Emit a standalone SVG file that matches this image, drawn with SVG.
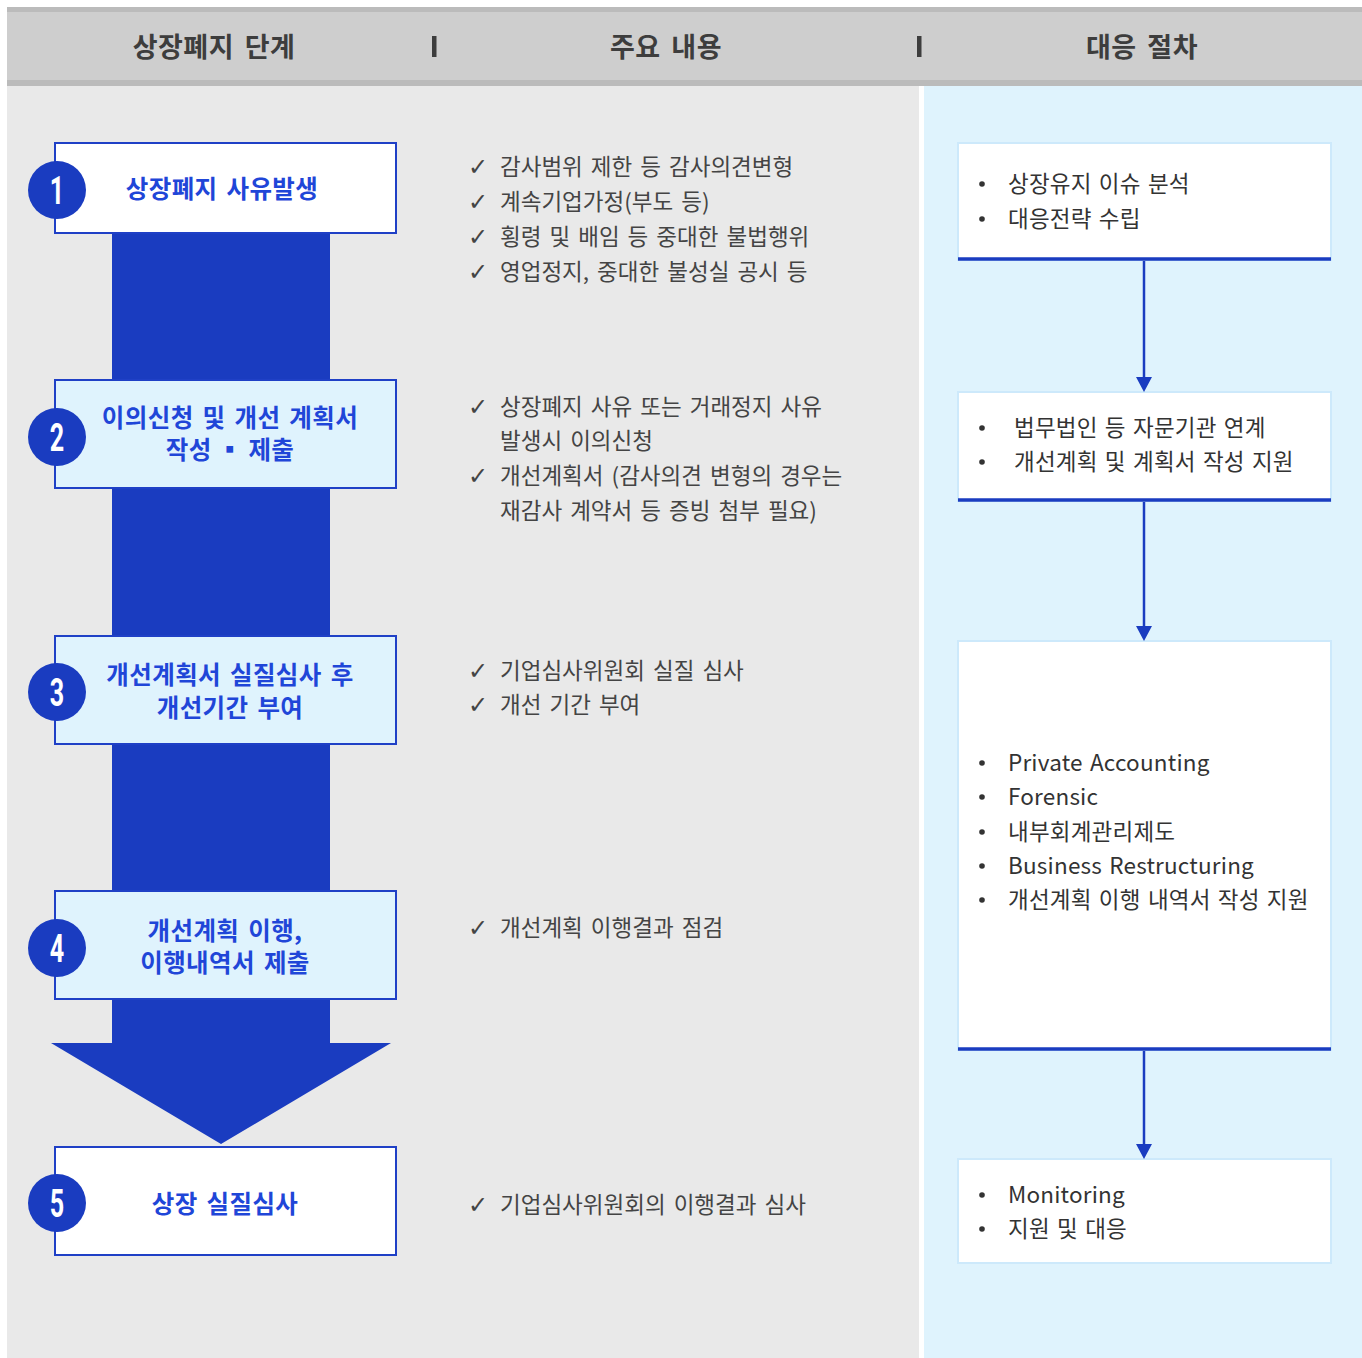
<svg xmlns="http://www.w3.org/2000/svg" width="1362" height="1358" viewBox="0 0 1362 1358">
<style>
.hdr{font-family:"Noto Sans CJK KR","Noto Sans",sans-serif;font-size:27px;font-weight:700;fill:#3d3d3d;text-anchor:middle;word-spacing:4px;letter-spacing:0.5px}
.step{fill:#1a3cc0}
.box{stroke:#1f40c6;stroke-width:2}
.lbl{font-family:"Noto Sans CJK KR","Noto Sans",sans-serif;font-size:24.5px;font-weight:700;fill:#1f46d8;text-anchor:middle;word-spacing:3px;letter-spacing:0.4px}
.num{font-family:Roboto,"Liberation Sans",sans-serif;font-size:38px;font-weight:700;fill:#ffffff;text-anchor:middle}
.mid{font-family:"Noto Sans CJK KR","Noto Sans",sans-serif;font-size:22.5px;fill:#444444;word-spacing:3px}
.chk{font-family:"DejaVu Sans",sans-serif;font-size:24px;fill:#444444}
.rbox{fill:#ffffff;stroke:#cde9fb;stroke-width:2}
.rline{stroke:#1a3cc0;stroke-width:3.5}
.rt{font-family:"Noto Sans CJK KR","Noto Sans",sans-serif;font-size:22.5px;fill:#333333;word-spacing:2px;letter-spacing:0.2px}
.bul{fill:#333333}
.conn{stroke:#1a3cc0;stroke-width:2.5;fill:none}
.head{fill:#1a3cc0}
</style>
<rect x="0" y="0" width="1362" height="1358" fill="#ffffff"/>
<rect x="7" y="86" width="912" height="1272" fill="#e9e9e9"/>
<rect x="924" y="86" width="438" height="1272" fill="#dff3fd"/>
<g id="header">
<rect x="7" y="7" width="1355" height="79" fill="#cecece"/>
<rect x="7" y="7" width="1355" height="5" fill="#bbbbbb"/>
<rect x="7" y="80" width="1355" height="6" fill="#bbbbbb"/>
<text class="hdr" x="214" y="57">상장폐지 단계</text>
<text class="hdr" x="666" y="57">주요 내용</text>
<text class="hdr" x="1142" y="57">대응 절차</text>
<rect x="432" y="36" width="4.5" height="21" fill="#3d3d3d"/>
<rect x="917" y="36" width="4.5" height="21" fill="#3d3d3d"/>
</g>
<g id="flow-arrow">
<path class="step" d="M112,200 L330,200 L330,1043 L391,1043 L221,1144 L51,1043 L112,1043 Z"/>
</g>
<g id="step1">
<rect class="box" x="55" y="143" width="341" height="90" fill="#ffffff"/>
<circle cx="57" cy="190" r="29" class="step"/>
<text class="num" transform="translate(57,204) scale(0.66,1)">1</text>
<text class="lbl" x="222" y="198">상장폐지 사유발생</text>
</g>
<g id="step2">
<rect class="box" x="55" y="380" width="341" height="108" fill="#dff3fd"/>
<circle cx="57" cy="437" r="29" class="step"/>
<text class="num" transform="translate(57,451) scale(0.66,1)">2</text>
<text class="lbl" x="230" y="427">이의신청 및 개선 계획서</text>
<text class="lbl" x="230" y="459" style="word-spacing:0px">작성 ▪ 제출</text>
</g>
<g id="step3">
<rect class="box" x="55" y="636" width="341" height="108" fill="#dff3fd"/>
<circle cx="57" cy="692" r="29" class="step"/>
<text class="num" transform="translate(57,706) scale(0.66,1)">3</text>
<text class="lbl" x="230" y="684">개선계획서 실질심사 후</text>
<text class="lbl" x="230" y="717">개선기간 부여</text>
</g>
<g id="step4">
<rect class="box" x="55" y="891" width="341" height="108" fill="#dff3fd"/>
<circle cx="57" cy="948" r="29" class="step"/>
<text class="num" transform="translate(57,962) scale(0.66,1)">4</text>
<text class="lbl" x="225" y="940">개선계획 이행,</text>
<text class="lbl" x="225" y="972">이행내역서 제출</text>
</g>
<g id="step5">
<rect class="box" x="55" y="1147" width="341" height="108" fill="#ffffff"/>
<circle cx="57" cy="1203" r="29" class="step"/>
<text class="num" transform="translate(57,1217) scale(0.66,1)">5</text>
<text class="lbl" x="225" y="1213">상장 실질심사</text>
</g>
<g id="content1">
<text class="chk" x="468" y="175">✓</text><text class="mid" x="500" y="175">감사범위 제한 등 감사의견변형</text>
<text class="chk" x="468" y="210">✓</text><text class="mid" x="500" y="210">계속기업가정(부도 등)</text>
<text class="chk" x="468" y="245">✓</text><text class="mid" x="500" y="245">횡령 및 배임 등 중대한 불법행위</text>
<text class="chk" x="468" y="280">✓</text><text class="mid" x="500" y="280">영업정지, 중대한 불성실 공시 등</text>
</g>
<g id="content2">
<text class="chk" x="468" y="415">✓</text><text class="mid" x="500" y="415">상장폐지 사유 또는 거래정지 사유</text>
<text class="mid" x="500" y="449">발생시 이의신청</text>
<text class="chk" x="468" y="484">✓</text><text class="mid" x="500" y="484">개선계획서 (감사의견 변형의 경우는</text>
<text class="mid" x="500" y="519">재감사 계약서 등 증빙 첨부 필요)</text>
</g>
<g id="content3">
<text class="chk" x="468" y="679">✓</text><text class="mid" x="500" y="679">기업심사위원회 실질 심사</text>
<text class="chk" x="468" y="713">✓</text><text class="mid" x="500" y="713">개선 기간 부여</text>
</g>
<g id="content4">
<text class="chk" x="468" y="936">✓</text><text class="mid" x="500" y="936">개선계획 이행결과 점검</text>
</g>
<g id="content5">
<text class="chk" x="468" y="1213">✓</text><text class="mid" x="500" y="1213">기업심사위원회의 이행결과 심사</text>
</g>
<g id="resp1">
<rect class="rbox" x="958" y="143" width="373" height="117"/>
<line class="rline" x1="958" y1="259" x2="1331" y2="259"/>
<circle class="bul" cx="982" cy="184" r="2.8"/><text class="rt" x="1008" y="192">상장유지 이슈 분석</text>
<circle class="bul" cx="982" cy="219" r="2.8"/><text class="rt" x="1008" y="227">대응전략 수립</text>
</g>
<g id="resp2">
<rect class="rbox" x="958" y="392" width="373" height="109"/>
<line class="rline" x1="958" y1="500" x2="1331" y2="500"/>
<circle class="bul" cx="982" cy="428" r="2.8"/><text class="rt" x="1014" y="436">법무법인 등 자문기관 연계</text>
<circle class="bul" cx="982" cy="462" r="2.8"/><text class="rt" x="1014" y="470">개선계획 및 계획서 작성 지원</text>
</g>
<g id="resp3">
<rect class="rbox" x="958" y="641" width="373" height="409"/>
<line class="rline" x1="958" y1="1049" x2="1331" y2="1049"/>
<circle class="bul" cx="982" cy="763" r="2.8"/><text class="rt" x="1008" y="771">Private Accounting</text>
<circle class="bul" cx="982" cy="797" r="2.8"/><text class="rt" x="1008" y="805">Forensic</text>
<circle class="bul" cx="982" cy="832" r="2.8"/><text class="rt" x="1008" y="840">내부회계관리제도</text>
<circle class="bul" cx="982" cy="866" r="2.8"/><text class="rt" x="1008" y="874">Business Restructuring</text>
<circle class="bul" cx="982" cy="900" r="2.8"/><text class="rt" x="1008" y="908">개선계획 이행 내역서 작성 지원</text>
</g>
<g id="resp4">
<rect class="rbox" x="958" y="1159" width="373" height="104"/>
<circle class="bul" cx="982" cy="1195" r="2.8"/><text class="rt" x="1008" y="1203">Monitoring</text>
<circle class="bul" cx="982" cy="1229" r="2.8"/><text class="rt" x="1008" y="1237">지원 및 대응</text>
</g>
<g id="connectors">
<line class="conn" x1="1144" y1="261" x2="1144" y2="378"/>
<polygon class="head" points="1136,377 1152,377 1144,392"/>
<line class="conn" x1="1144" y1="502" x2="1144" y2="627"/>
<polygon class="head" points="1136,626 1152,626 1144,641"/>
<line class="conn" x1="1144" y1="1051" x2="1144" y2="1145"/>
<polygon class="head" points="1136,1144 1152,1144 1144,1159"/>
</g>
</svg>
